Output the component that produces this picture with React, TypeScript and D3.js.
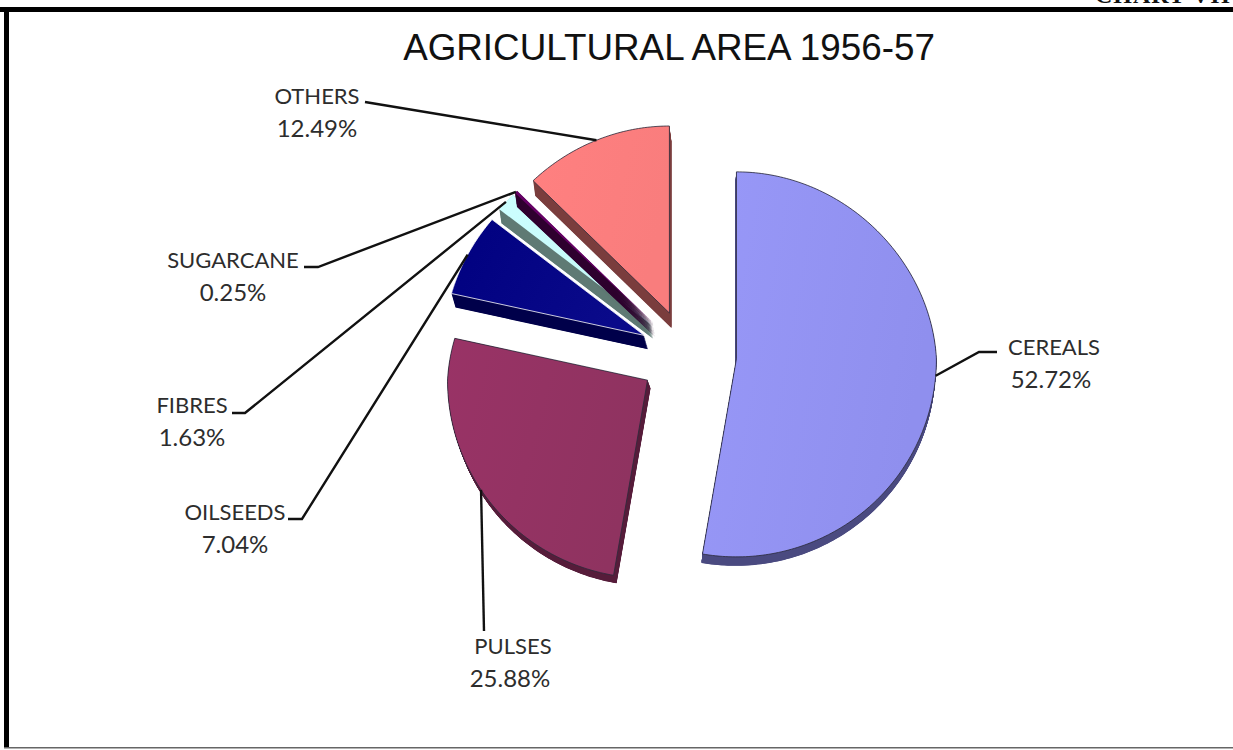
import React from "react";
import * as d3 from "d3";

const width = 1233;
const height = 750;

// share of agricultural area, clockwise from 12 o'clock
const categories = ["CEREALS", "PULSES", "OILSEEDS", "FIBRES", "SUGARCANE", "OTHERS"];
const shares = [52.72, 25.88, 7.04, 1.63, 0.25, 12.49];

const faceColors = ["#9898f8", "#993366", "#000080", "#ccffff", "#660066", "#ff8080"];
const faceEdge = ["#8f8fee", "#8f3360", "#0a0a8a", "#c4f7f7", "#660066", "#f97d7d"];
const sideColors = ["#4a4a80", "#561c3a", "#00004a", "#5f7a74", "#2e002e", "#7a3d3d"];
// how far each slice is pulled down to fake the 3d edge
const depths = [
  [-1, 9],
  [3, 8],
  [4, 14],
  [2, 14],
  [2, 14],
  [2, 15],
];

// label anchor (centre of text) and the elbow of its leader line
const labelPos = [
  { x: 1054, y: 355, pctX: 1051, from: [997, 352], elbow: [979, 352] },
  { x: 513, y: 654, pctX: 510, from: [484, 631], elbow: [484, 631] },
  { x: 235, y: 520, pctX: 235, from: [288, 519], elbow: [302, 519] },
  { x: 192, y: 413, pctX: 192, from: [232, 413], elbow: [245, 413] },
  { x: 233, y: 268, pctX: 233, from: [304, 267], elbow: [318, 267] },
  { x: 317, y: 104, pctX: 317, from: [365, 102], elbow: [365, 102] },
];

const cx = 688;
const cy = 355;
const radius = 200;
const explode = 48.6;
// tilt of the pie: the far half is flatter and narrower than the near half
const squashFar = 0.935;
const squashNear = 0.99;
const narrowFar = 0.05;

function project(dx: number, dy: number): [number, number] {
  if (dy < 0) {
    return [dx * (1 + (narrowFar * dy) / radius), dy * squashFar];
  }
  return [dx, dy * squashNear];
}

function App() {
  const pie = d3
    .pie<number>()
    .sort(null)
    .value((d) => d);
  const slices = pie(shares);
  const closed = d3.line().curve(d3.curveLinearClosed);
  const line = d3.line();

  const shapes = slices.map((s) => {
    const mid = (s.startAngle + s.endAngle) / 2;
    const ox = cx + Math.sin(mid) * explode;
    const oy = cy - Math.cos(mid) * explode * squashFar;
    const count = Math.max(2, Math.ceil((s.endAngle - s.startAngle) * 60));
    const rim = d3.range(count + 1).map((k) => {
      const a = s.startAngle + ((s.endAngle - s.startAngle) * k) / count;
      return project(Math.sin(a) * radius, -Math.cos(a) * radius);
    });
    const outline = [[0, 0] as [number, number], ...rim];
    const [ex, ey] = project(Math.sin(mid) * radius, -Math.cos(mid) * radius);
    return { ox, oy, d: closed(outline) as string, edge: [ox + ex, oy + ey] as [number, number] };
  });

  const steps = d3.range(1, 31);

  return (
    <svg
      width={width}
      height={height}
      style={{ position: "absolute", left: 0, top: 0, background: "#fff" }}
    >
      <defs>
        {categories.map((c, i) => (
          <linearGradient key={c} id={"face" + i} x1="0" x2="1" y1="0" y2="0.3">
            <stop offset="0" stopColor={faceColors[i]} />
            <stop offset="1" stopColor={faceEdge[i]} />
          </linearGradient>
        ))}
      </defs>

      <text
        x={1095}
        y={3}
        fontFamily="'Liberation Serif', serif"
        fontWeight="bold"
        fontSize={24}
        letterSpacing={1}
        fill="#111"
      >
        CHART VII
      </text>

      <rect x={0} y={7} width={width} height={5} fill="#000" />
      <rect x={4} y={7} width={5} height={741} fill="#000" />
      <rect x={4} y={747} width={width - 4} height={1.5} fill="#666" />

      <text
        x={669}
        y={60}
        textAnchor="middle"
        fontFamily="'Liberation Sans', sans-serif"
        fontSize={36.8}
        fill="#111"
      >
        AGRICULTURAL AREA 1956-57
      </text>

      {shapes.map((s, i) => (
        <g key={categories[i]} transform={`translate(${s.ox},${s.oy})`}>
          {steps.map((t) => (
            <path
              key={t}
              d={s.d}
              transform={`translate(${(depths[i][0] * t) / 30},${(depths[i][1] * t) / 30})`}
              fill={sideColors[i]}
            />
          ))}
          <path
            d={s.d}
            fill={`url(#face${i})`}
            stroke={i === 2 ? "#ffffff" : "#2a2a3a"}
            strokeWidth={i === 3 || i === 4 ? 0 : 0.8}
          />
        </g>
      ))}

      {categories.map((c, i) => {
        const l = labelPos[i];
        return (
          <g key={c}>
            <path
              d={line([l.from as [number, number], l.elbow as [number, number], shapes[i].edge]) as string}
              fill="none"
              stroke="#111"
              strokeWidth={2.4}
            />
            <text
              x={l.x}
              y={l.y}
              textAnchor="middle"
              fontFamily="Lato, sans-serif"
              fontSize={22}
              fill="#2d2d2d"
            >
              <tspan x={l.x}>{c}</tspan>
              <tspan x={l.pctX} dy={32.5} fontSize={24}>
                {shares[i].toFixed(2)}%
              </tspan>
            </text>
          </g>
        );
      })}
    </svg>
  );
}

export default App;
